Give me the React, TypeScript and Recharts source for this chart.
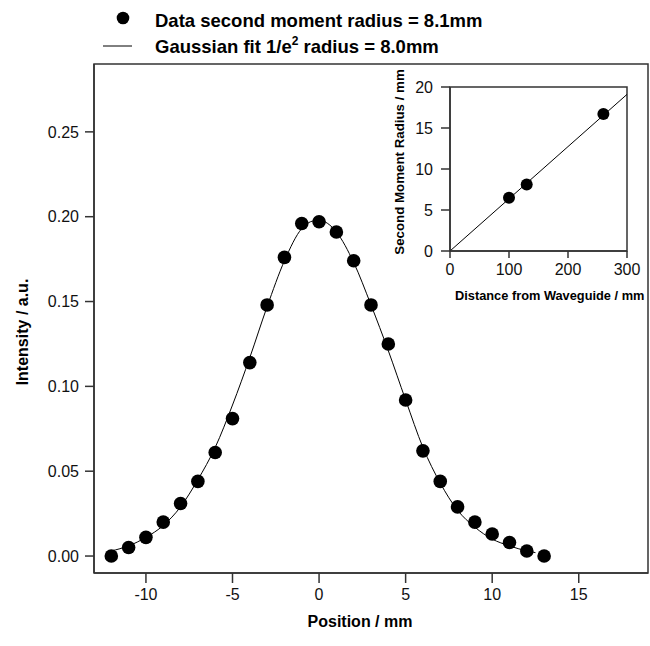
import React from "react";
import {
  ComposedChart,
  Scatter,
  Line,
  XAxis,
  YAxis,
  ReferenceArea,
  Label,
} from "recharts";

// ---- Main chart data ----
const positionMm = [-12, -11, -10, -9, -8, -7, -6, -5, -4, -3, -2, -1, 0, 1, 2, 3, 4, 5, 6, 7, 8, 9, 10, 11, 12, 13];
const intensity = [0.0, 0.005, 0.011, 0.02, 0.031, 0.044, 0.061, 0.081, 0.114, 0.148, 0.176, 0.196, 0.197, 0.191, 0.174, 0.148, 0.125, 0.092, 0.062, 0.044, 0.029, 0.02, 0.013, 0.008, 0.003, 0.0];

const fitPositionMm = [-12, -11, -10, -9, -8, -7, -6, -5, -4, -3, -2, -1, -0.5, 0, 0.5, 1, 2, 3, 4, 5, 6, 7, 8, 9, 10, 11, 12, 12.5];
const fitIntensity = [0.003, 0.006, 0.011, 0.018, 0.029, 0.045, 0.064, 0.089, 0.117, 0.147, 0.174, 0.193, 0.197, 0.198, 0.196, 0.191, 0.173, 0.148, 0.121, 0.092, 0.064, 0.043, 0.027, 0.017, 0.01, 0.006, 0.003, 0.002];

const mainXTicks = [-10, -5, 0, 5, 10, 15];
const mainYTicks = [0, 0.05, 0.1, 0.15, 0.2, 0.25];

// ---- Inset data ----
const distanceMm = [100, 130, 260];
const secondMomentRadius = [6.5, 8.1, 16.7];
const fitDistanceMm = [0, 300];
const fitRadius = [0, 19.1];
const insetXTicks = [0, 100, 200, 300];
const insetYTicks = [0, 5, 10, 15, 20];

const legendLabels = ["Data second moment radius = 8.1mm", "Gaussian fit 1/e", "2", " radius = 8.0mm"];

const mainPoints = positionMm.map((x, i) => ({ x, y: intensity[i] }));
const mainFit = fitPositionMm.map((x, i) => ({ x, y: fitIntensity[i] }));
const insetPoints = distanceMm.map((x, i) => ({ x, y: secondMomentRadius[i] }));
const insetFit = fitDistanceMm.map((x, i) => ({ x, y: fitRadius[i] }));

const FONT = "'Liberation Sans', Arial, sans-serif";
const AX = "#333";

const tickStyle = { fontFamily: FONT, fontSize: 16, fill: "#111" };

const bigDot = (props: any) => <circle cx={props.cx} cy={props.cy} r={6.8} fill="#000" />;
const smallDot = (props: any) => <circle cx={props.cx} cy={props.cy} r={6} fill="#000" />;

function LegendBlock() {
  return (
    <svg width={650} height={62} style={{ position: "absolute", left: 0, top: 0 }}>
      <circle cx={123} cy={18} r={6.3} fill="#000" />
      <text x={155} y={27} fontFamily={FONT} fontSize={18.5} fontWeight="bold" fill="#000">
        {legendLabels[0]}
      </text>
      <line x1={103} x2={132} y1={46} y2={46} stroke="#000" strokeWidth={1} />
      <text x={155} y={53} fontFamily={FONT} fontSize={18.5} fontWeight="bold" fill="#000">
        {legendLabels[1]}
        <tspan dy={-8} fontSize={12}>{legendLabels[2]}</tspan>
        <tspan dy={8}>{legendLabels[3]}</tspan>
      </text>
    </svg>
  );
}

export default function App() {
  return (
    <div style={{ position: "fixed", left: 0, top: 0, width: 650, height: 646, background: "#fff", overflow: "hidden" }}>
      <div style={{ position: "absolute", left: 0, top: 0 }}>
        <ComposedChart width={650} height={646} margin={{ top: 64, right: 2, bottom: 0, left: 0 }}>
          <XAxis
            type="number"
            dataKey="x"
            domain={[-13, 19]}
            ticks={mainXTicks}
            allowDataOverflow
            tick={tickStyle}
            tickSize={10}
            tickMargin={6}
            height={73}
            axisLine={{ stroke: AX, strokeWidth: 1.5 }}
            tickLine={{ stroke: AX, strokeWidth: 1.5 }}
          >
            <Label
              content={() => (
                <text x={360} y={627} textAnchor="middle" fontFamily={FONT} fontSize={16} fontWeight="bold" fill="#000">
                  Position / mm
                </text>
              )}
            />
          </XAxis>
          <YAxis
            type="number"
            dataKey="y"
            domain={[-0.01, 0.29]}
            ticks={mainYTicks}
            allowDataOverflow
            tickFormatter={(v: number) => v.toFixed(2)}
            tick={tickStyle}
            tickSize={9}
            tickMargin={6}
            width={94}
            axisLine={{ stroke: AX, strokeWidth: 1.5 }}
            tickLine={{ stroke: AX, strokeWidth: 1.5 }}
          >
            <Label
              content={() => (
                <text
                  x={0}
                  y={0}
                  transform="translate(28, 332) rotate(-90)"
                  textAnchor="middle"
                  fontFamily={FONT}
                  fontSize={16}
                  fontWeight="bold"
                  fill="#000"
                >
                  Intensity / a.u.
                </text>
              )}
            />
          </YAxis>
          <ReferenceArea x1={-13} x2={19} y1={-0.01} y2={0.29} fill="none" stroke={AX} strokeWidth={1.5} ifOverflow="visible" />
          <Line
            data={mainFit}
            dataKey="y"
            type="monotone"
            stroke="#000"
            strokeWidth={1}
            dot={false}
            activeDot={false}
            isAnimationActive={false}
          />
          <Scatter data={mainPoints} dataKey="y" shape={bigDot} isAnimationActive={false} />
        </ComposedChart>
      </div>
      <LegendBlock />
      <div style={{ position: "absolute", left: 380, top: 60 }}>
        <ComposedChart width={270} height={250} margin={{ top: 27, right: 23, bottom: 0, left: 0 }}>
          <XAxis
            type="number"
            dataKey="x"
            domain={[0, 300]}
            ticks={insetXTicks}
            allowDataOverflow
            tick={tickStyle}
            tickSize={7}
            tickMargin={6}
            height={59}
            axisLine={{ stroke: AX, strokeWidth: 1.5 }}
            tickLine={{ stroke: AX, strokeWidth: 1.5 }}
          >
            <Label
              content={() => (
                <text x={75} y={240} textAnchor="start" fontFamily={FONT} fontSize={12.8} fontWeight="bold" fill="#000">
                  Distance from Waveguide / mm
                </text>
              )}
            />
          </XAxis>
          <YAxis
            type="number"
            dataKey="y"
            domain={[0, 20]}
            ticks={insetYTicks}
            allowDataOverflow
            tick={tickStyle}
            tickSize={9}
            tickMargin={8}
            width={70}
            axisLine={{ stroke: AX, strokeWidth: 1.5 }}
            tickLine={{ stroke: AX, strokeWidth: 1.5 }}
          >
            <Label
              content={() => (
                <text
                  x={0}
                  y={0}
                  transform="translate(24, 102) rotate(-90)"
                  textAnchor="middle"
                  fontFamily={FONT}
                  fontSize={13.3}
                  fontWeight="bold"
                  fill="#000"
                >
                  Second Moment Radius / mm
                </text>
              )}
            />
          </YAxis>
          <ReferenceArea x1={0} x2={300} y1={0} y2={20} fill="none" stroke={AX} strokeWidth={1.5} ifOverflow="visible" />
          <Line
            data={insetFit}
            dataKey="y"
            type="linear"
            stroke="#000"
            strokeWidth={1}
            dot={false}
            activeDot={false}
            isAnimationActive={false}
          />
          <Scatter data={insetPoints} dataKey="y" shape={smallDot} isAnimationActive={false} />
        </ComposedChart>
      </div>
    </div>
  );
}
